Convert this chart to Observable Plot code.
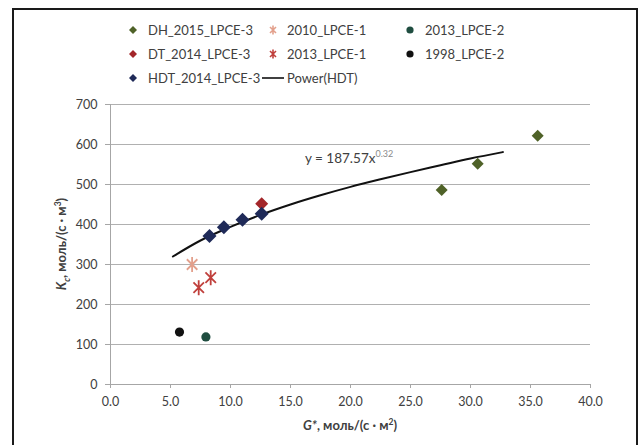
<!DOCTYPE html>
<html>
<head>
<meta charset="utf-8">
<script src="https://cdn.jsdelivr.net/npm/d3@7"></script>
<script src="https://cdn.jsdelivr.net/npm/@observablehq/plot@0.6"></script>
<style>
  body { margin: 0; background: #fff; }
  #wrap { position: relative; width: 641px; height: 445px; overflow: hidden; font-family: Lato, "Open Sans", sans-serif; color: #404040; }
  #frame { position: absolute; left: 12px; top: 8px; width: 622px; height: 470px; border: 2px solid #1a1a1a; border-bottom: none; pointer-events: none; }
  #legend { position: relative; height: 96px; }
  .li { position: absolute; font-size: 13px; line-height: 16px; white-space: nowrap; }
  .lm { position: absolute; }
  #chart svg { display: block; }
</style>
</head>
<body>
<div id="wrap">
  <div id="legend"></div>
  <div id="chart"></div>
  <div id="frame"></div>
</div>
<script>
// ---- data ----
const dhG = [27.6, 30.6, 35.6];
const dhK = [486, 552, 622];
const dtG = [12.6];
const dtK = [452];
const hdtG = [8.25, 9.45, 11.0, 12.6];
const hdtK = [371, 393, 412, 427];
const lpce1_2010G = [6.8];
const lpce1_2010K = [300];
const lpce1_2013G = [7.35, 8.35];
const lpce1_2013K = [242, 267];
const lpce2_2013G = [7.95];
const lpce2_2013K = [119];
const lpce2_1998G = [5.75];
const lpce2_1998K = [131];
// power trend line (HDT)
const fitG = [5.2, 7.5, 10, 12.5, 15, 17.5, 20, 22.5, 25, 27.5, 30, 32.7];
const fitK = [320, 360, 394, 424, 450, 473, 494, 513, 531, 548, 565, 581];
const xTicks = [0, 5, 10, 15, 20, 25, 30, 35, 40];
const yTicks = [0, 100, 200, 300, 400, 500, 600, 700];
const legendNames = ["DH_2015_LPCE-3", "2010_LPCE-1", "2013_LPCE-2", "DT_2014_LPCE-3", "2013_LPCE-1", "1998_LPCE-2", "HDT_2014_LPCE-3", "Power(HDT)"];
const equationMain = "y = 187.57x";
const equationExp = "0.32";

// ---- styles ----
const C = {
  dh: "#4f6228", dt: "#a3262a", hdt: "#1f2a58",
  l10: "#e3a08c", l13: "#c0403c", c13: "#1f4d40", c98: "#111111"
};
const pts = (g, k) => g.map((v, i) => ({g: v, k: k[i]}));

// square (Excel-like) diamond symbol
const diamond = {
  draw(ctx, size) {
    const h = Math.sqrt(size / Math.PI);
    ctx.moveTo(0, -h); ctx.lineTo(h, 0); ctx.lineTo(0, h); ctx.lineTo(-h, 0); ctx.closePath();
  }
};
// Excel "star" marker: X plus vertical bar
const star = {
  draw(ctx, size) {
    const h = Math.sqrt(size / Math.PI);
    const d = h * 0.7;
    ctx.moveTo(-d, -d); ctx.lineTo(d, d);
    ctx.moveTo(d, -d); ctx.lineTo(-d, d);
    ctx.moveTo(0, -h); ctx.lineTo(0, h);
  }
};

const W = 641, H = 349;
const chart = Plot.plot({
  width: W, height: H,
  marginLeft: 110, marginRight: 51, marginTop: 8, marginBottom: 61,
  style: { fontFamily: "Lato, 'Open Sans', sans-serif", fontSize: "12.5px", color: "#404040", background: "transparent" },
  x: { domain: [0, 40], ticks: xTicks, tickFormat: d3.format(".1f"), tickSize: 4, tickPadding: 9, label: null },
  y: { domain: [0, 700], ticks: yTicks, tickFormat: d3.format("d"), tickSize: 5, tickPadding: 8, label: null },
  marks: [
    Plot.gridY(yTicks.filter(d => d > 0), { stroke: "#b0b0b0", strokeOpacity: 1, strokeWidth: 1 }),
    Plot.ruleY([0], { stroke: "#a6a6a6" }),
    Plot.ruleX([0], { stroke: "#a6a6a6" }),
    Plot.axisX({ ticks: xTicks, tickFormat: d3.format(".1f"), tickSize: 4, tickPadding: 9, stroke: "#a6a6a6", fill: "#404040", label: null }),
    Plot.axisY({ ticks: yTicks, tickFormat: d3.format("d"), tickSize: 5, tickPadding: 8, stroke: "#a6a6a6", fill: "#404040", label: null }),
    Plot.line(pts(fitG, fitK), { x: "g", y: "k", stroke: "#111", strokeWidth: 2, curve: "monotone-x" }),
    Plot.dot(pts(lpce2_1998G, lpce2_1998K), { x: "g", y: "k", r: 4.6, fill: C.c98, stroke: "none" }),
    Plot.dot(pts(lpce2_2013G, lpce2_2013K), { x: "g", y: "k", r: 4.6, fill: C.c13, stroke: "none" }),
    Plot.dot(pts(lpce1_2010G, lpce1_2010K), { x: "g", y: "k", r: 7.5, symbol: star, stroke: C.l10, strokeWidth: 1.8, fill: "none" }),
    Plot.dot(pts(lpce1_2013G, lpce1_2013K), { x: "g", y: "k", r: 7.5, symbol: star, stroke: C.l13, strokeWidth: 1.8, fill: "none" }),
    Plot.dot(pts(dtG, dtK), { x: "g", y: "k", r: 6.5, symbol: diamond, fill: C.dt, stroke: "none" }),
    Plot.dot(pts(hdtG, hdtK), { x: "g", y: "k", r: 7, symbol: diamond, fill: C.hdt, stroke: "none" }),
    Plot.dot(pts(dhG, dhK), { x: "g", y: "k", r: 6, symbol: diamond, fill: C.dh, stroke: "none" })
  ]
});
document.getElementById("chart").appendChild(chart);

// ---- equation annotation and axis titles (real text with tspans) ----
const sx = chart.scale("x"), sy = chart.scale("y");
const svg = d3.select(chart);
const eq = svg.append("text")
  .attr("x", sx.apply(16.25)).attr("y", sy.apply(553))
  .attr("text-anchor", "start")
  .attr("font-size", 13.5).attr("fill", "#404040").attr("font-family", "Lato, sans-serif");
eq.append("tspan").text(equationMain);
eq.append("tspan").attr("dy", -6).attr("font-size", 9).attr("fill", "#8a8a8a").text(equationExp);

const xl = svg.append("text")
  .attr("x", (sx.apply(0) + sx.apply(40)) / 2).attr("y", 334)
  .attr("text-anchor", "middle").attr("font-size", 13).attr("font-weight", "bold").attr("fill", "#404040");
xl.append("tspan").attr("font-style", "italic").text("G*");
xl.append("tspan").text(", моль/(с · м");
xl.append("tspan").attr("dy", -5).attr("font-size", 8.5).text("2");
xl.append("tspan").attr("dy", 5).text(")");

const ylX = 66, ylY = (sy.apply(0) + sy.apply(700)) / 2;
const yl = svg.append("text")
  .attr("transform", `translate(${ylX},${ylY}) rotate(-90)`)
  .attr("text-anchor", "middle").attr("font-size", 13).attr("font-weight", "bold").attr("fill", "#404040");
yl.append("tspan").attr("font-style", "italic").text("K");
yl.append("tspan").attr("dy", 4).attr("font-size", 8.5).attr("font-style", "italic").text("c");
yl.append("tspan").attr("dy", -4).text(", моль/(с · м");
yl.append("tspan").attr("dy", -5).attr("font-size", 8.5).text("3");
yl.append("tspan").attr("dy", 5).text(")");

// ---- legend ----
const legend = d3.select("#legend");
const colMarkerX = [133, 273, 410];
const colTextX = [148, 287, 425];
const rowY = [30, 54, 78];
const markerSpecs = [
  {type: "diamond", color: C.dh}, {type: "star", color: C.l10}, {type: "circle", color: C.c13},
  {type: "diamond", color: C.dt}, {type: "star", color: C.l13}, {type: "circle", color: C.c98},
  {type: "diamond", color: C.hdt}, {type: "line", color: "#111"}
];
legendNames.forEach((name, i) => {
  const col = i % 3, row = Math.floor(i / 3);
  const m = markerSpecs[i];
  const cx = colMarkerX[col], cy = rowY[row];
  const s = legend.append("svg").attr("class", "lm")
    .attr("width", 24).attr("height", 14)
    .style("left", (cx - 12) + "px").style("top", (cy - 7) + "px");
  if (m.type === "diamond") {
    s.append("path").attr("d", "M12,3L16,7L12,11L8,7Z").attr("fill", m.color);
  } else if (m.type === "circle") {
    s.append("circle").attr("cx", 12).attr("cy", 7).attr("r", 3.6).attr("fill", m.color);
  } else if (m.type === "star") {
    s.append("path").attr("d", "M9,4L15,10M15,4L9,10M12,2.5L12,11.5")
      .attr("stroke", m.color).attr("stroke-width", 1.6).attr("fill", "none");
  } else {
    s.append("line").attr("x1", 1).attr("x2", 23).attr("y1", 7).attr("y2", 7).attr("stroke", m.color).attr("stroke-width", 1.6);
  }
  legend.append("div").attr("class", "li")
    .style("left", colTextX[col] + "px").style("top", (cy - 8) + "px")
    .text(name);
});
</script>
</body>
</html>
